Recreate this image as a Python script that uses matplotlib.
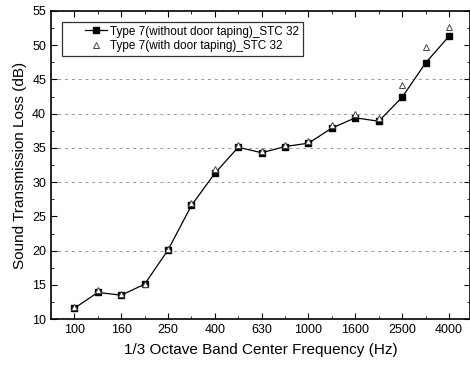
import numpy as np
import matplotlib.pyplot as plt
from matplotlib.ticker import MultipleLocator
from matplotlib.legend_handler import HandlerLine2D

plt.rcParams['font.family'] = ['Liberation Sans', 'DejaVu Sans']

# 1/3 octave band centre frequencies (Hz)
freqs = ['100', '125', '160', '200', '250', '315', '400', '500', '630', '800',
         '1000', '1250', '1600', '2000', '2500', '3150', '4000']
# Type 7 without door taping
stl_no_tape = [11.6, 13.9, 13.5, 15.1, 20.1, 26.6, 31.3, 35.1, 34.3, 35.2,
               35.7, 37.9, 39.4, 38.9, 42.4, 47.4, 51.3]
# Type 7 with door taping
stl_tape = [11.8, 14.2, 13.6, 15.2, 20.3, 26.9, 31.9, 35.4, 34.5, 35.5,
            36.0, 38.4, 39.9, 39.4, 44.2, 49.7, 52.7]

x = np.arange(len(freqs))

fig = plt.figure(figsize=(4.70, 3.66), dpi=100)
ax = fig.add_axes([0.1085, 0.128, 0.8915, 0.842])

# faint dashed grid like the scanned original
for yv in [20, 30, 35, 40, 45]:
    ax.axhline(yv, color='#999999', lw=0.7, ls=(0, (3, 4)), zorder=0)

l1, = ax.plot(x, stl_no_tape, '-', color='black', lw=0.9, marker='s', ms=5,
              mfc='black', mec='black', label='Type 7(without door taping)_STC 32')
l2, = ax.plot(x, stl_tape, ls='none', marker='^', ms=5, mfc='white', mec='#444444',
              mew=0.7, label='Type 7(with door taping)_STC 32')

ax.set_xlim(-1, 16.9)
ax.set_ylim(10, 55)
ax.set_xticks(x[::2])
ax.set_xticklabels(freqs[::2])
ax.set_xticks(x, minor=True)
ax.yaxis.set_major_locator(MultipleLocator(5))
ax.yaxis.set_minor_locator(MultipleLocator(2.5))
ax.tick_params(which='both', direction='in', top=True, right=True, labelsize=9)
ax.tick_params(which='major', length=4)
ax.tick_params(which='minor', length=2)

ax.set_xlabel('1/3 Octave Band Center Frequency (Hz)', fontsize=11, labelpad=5)
ax.set_ylabel('Sound Transmission Loss (dB)', fontsize=11)

for s in ax.spines.values():
    s.set_linewidth(1.2)

hm = {l1: HandlerLine2D(xpad=1.65), l2: HandlerLine2D(xpad=1.65)}
leg = ax.legend(loc='upper left', bbox_to_anchor=(0.026, 0.964), borderaxespad=0,
                fontsize=8.5, frameon=True, fancybox=False, edgecolor='black',
                borderpad=0.3, labelspacing=0.2, handlelength=3.55,
                handletextpad=0.25, markerscale=0.9, handler_map=hm)
leg.get_frame().set_linewidth(0.9)

fig.savefig('out.png', dpi=100)
